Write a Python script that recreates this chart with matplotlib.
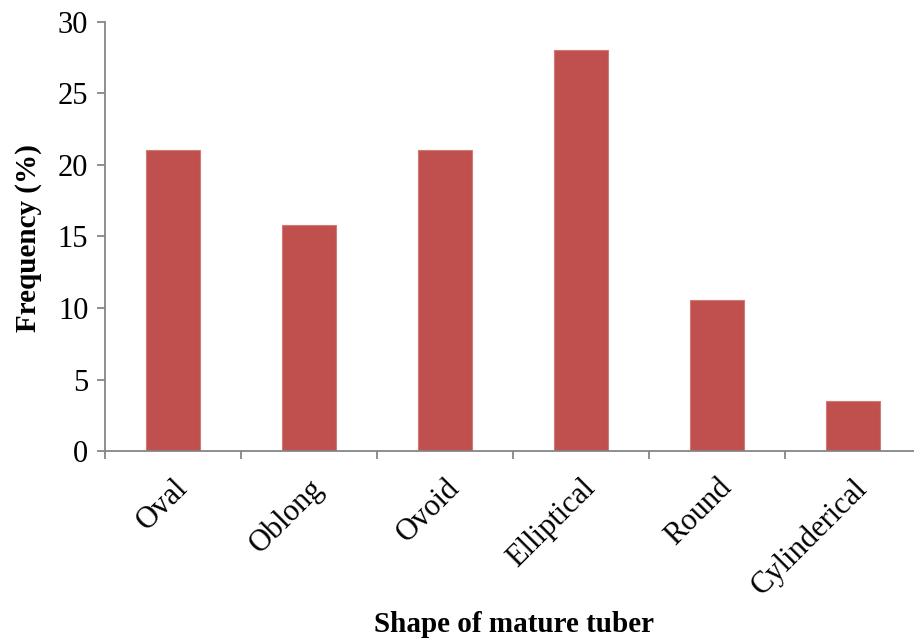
import matplotlib.pyplot as plt

# tuber shape frequencies (%)
shapes = ['Oval', 'Oblong', 'Ovoid', 'Elliptical', 'Round', 'Cylinderical']
freq = [21.05, 15.79, 21.05, 28.07, 10.53, 3.51]

plt.rcParams['font.family'] = ['Liberation Serif', 'DejaVu Serif']

fig = plt.figure(figsize=(9.14, 6.41), dpi=100)
ax = fig.add_axes([0.1149, 0.2964, 0.8928, 0.6693])

x = range(len(shapes))
ax.bar(x, freq, width=0.4, color='#C0504D', edgecolor='#D07A78', linewidth=0.8, zorder=2)

ax.set_xlim(-0.5, len(shapes) - 0.5)
ax.set_ylim(0, 30)
ax.set_yticks([0, 5, 10, 15, 20, 25, 30])

# x ticks sit on category borders, labels at centres
ax.set_xticks([i - 0.5 for i in range(len(shapes) + 1)])
ax.set_xticklabels([])
ax.set_xticks(list(x), minor=True)
ax.set_xticklabels(shapes, minor=True, rotation=45, ha='right', rotation_mode='anchor', fontsize=22)
ax.tick_params(axis='x', which='minor', length=0, pad=16)
ax.tick_params(axis='x', which='major', length=6, color='#868686', width=1.3)
ax.tick_params(axis='y', length=6, color='#868686', width=1.3, labelsize=22, pad=6)

for s in ['top', 'right']:
    ax.spines[s].set_visible(False)
for s in ['left', 'bottom']:
    ax.spines[s].set_color('#868686')
    ax.spines[s].set_linewidth(1.3)

# axis titles placed on the figure
fig.text(0.031, 0.629, 'Frequency (%)', rotation=90, ha='center', va='center',
         fontsize=21, fontweight='bold')
fig.text(0.562, 0.025, 'Shape of mature tuber', ha='center', va='center',
         fontsize=21, fontweight='bold')

fig.savefig('out.png', dpi=100)
